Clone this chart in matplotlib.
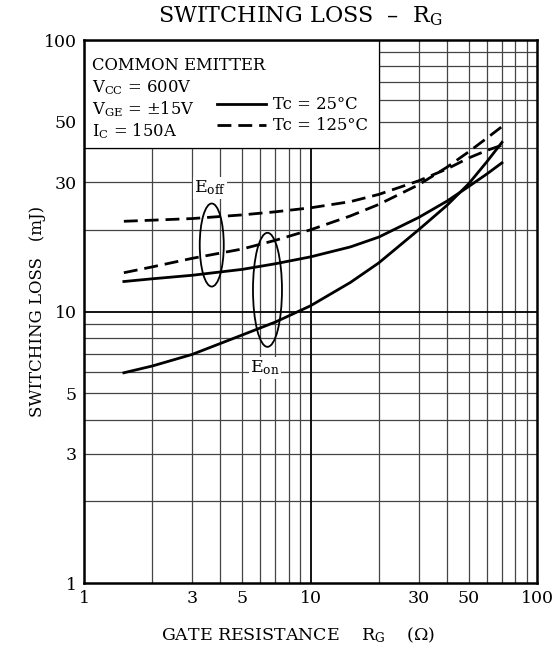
import matplotlib
matplotlib.use("Agg")
import matplotlib.pyplot as plt
from matplotlib.patches import Ellipse, Rectangle

plt.rcParams['font.family'] = ['DejaVu Serif']
plt.rcParams['mathtext.fontset'] = 'dejavuserif'

# gate resistance (ohm)
rg = [1.5, 2, 3, 5, 7, 10, 15, 20, 30, 40, 50, 60, 70]

# switching loss (mJ)
eon_25 = [5.95, 6.3, 6.95, 8.2, 9.15, 10.5, 12.8, 15.1, 20.0, 24.6, 29.6, 35.6, 42.0]
eoff_25 = [12.9, 13.2, 13.6, 14.3, 15.0, 15.9, 17.3, 18.8, 22.2, 25.5, 28.9, 32.1, 35.3]
eon_125 = [13.9, 14.6, 15.7, 17.0, 18.3, 20.0, 22.5, 24.8, 29.3, 34.0, 38.8, 43.5, 48.0]
eoff_125 = [21.5, 21.7, 22.0, 22.7, 23.3, 24.1, 25.4, 27.0, 30.3, 33.5, 36.8, 39.2, 41.0]

tick_vals = [1, 3, 5, 10, 30, 50, 100]
tick_labels = ["1", "3", "5", "10", "30", "50", "100"]
minor_vals = [2, 3, 4, 5, 6, 7, 8, 9, 20, 30, 40, 50, 60, 70, 80, 90]

fig = plt.figure(figsize=(5.54, 6.5), dpi=100)
ax = fig.add_axes([0.1516, 0.103, 0.8178, 0.8354])
ax.set_xscale('log')
ax.set_yscale('log')
ax.set_xlim(1, 100)
ax.set_ylim(1, 100)

# grid
for v in minor_vals:
    ax.axvline(v, color='#444444', lw=0.9, zorder=1)
    ax.axhline(v, color='#444444', lw=0.9, zorder=1)
ax.axvline(10, color='black', lw=1.3, zorder=1)
ax.axhline(10, color='black', lw=1.3, zorder=1)

# white box for conditions
ax.add_patch(Rectangle((1, 40), 19, 60, facecolor='white', edgecolor='black',
                       lw=0.9, zorder=2))

dash = (0, (5, 2.5))
ax.plot(rg, eon_25, color='black', lw=2, zorder=4)
ax.plot(rg, eoff_25, color='black', lw=2, zorder=4)
ax.plot(rg, eon_125, color='black', lw=2, ls=dash, zorder=4)
ax.plot(rg, eoff_125, color='black', lw=2, ls=dash, zorder=4)

# ellipses grouping curves
ax.add_patch(Ellipse((0.282, 0.6225), 0.053, 0.153, transform=ax.transAxes,
                     fill=False, edgecolor='black', lw=1.3, zorder=5))
ax.add_patch(Ellipse((0.405, 0.540), 0.064, 0.210, transform=ax.transAxes,
                     fill=False, edgecolor='black', lw=1.3, zorder=5))
ax.text(3.6, 28.5, r'$\mathrm{E_{off}}$', fontsize=12.5, ha='center', va='center',
        zorder=6, bbox=dict(facecolor='white', edgecolor='none', pad=1))
ax.text(6.3, 6.2, r'$\mathrm{E_{on}}$', fontsize=12.5, ha='center', va='center',
        zorder=6, bbox=dict(facecolor='white', edgecolor='none', pad=1))

# conditions text
cond_kw = dict(transform=ax.transAxes, fontsize=11.8, ha='left', va='center', zorder=6)
ax.text(0.0177, 0.954, "COMMON EMITTER", **cond_kw)
ax.text(0.0177, 0.913, r"$\mathrm{V_{CC}}$ = 600V", **cond_kw)
ax.text(0.0177, 0.873, r"$\mathrm{V_{GE}}$ = $\pm$15V", **cond_kw)
ax.text(0.0177, 0.833, r"$\mathrm{I_{C}}$ = 150A", **cond_kw)
ax.plot([0.2936, 0.402], [0.882, 0.882], transform=ax.transAxes, color='black',
        lw=2, zorder=6)
ax.plot([0.2936, 0.402], [0.843, 0.843], transform=ax.transAxes, color='black',
        lw=2, ls=dash, zorder=6)
ax.text(0.417, 0.882, "Tc = 25°C", **cond_kw)
ax.text(0.417, 0.843, "Tc = 125°C", **cond_kw)

ax.set_xticks(tick_vals)
ax.set_xticklabels(tick_labels)
ax.set_yticks(tick_vals)
ax.set_yticklabels(tick_labels)
ax.minorticks_off()
ax.tick_params(length=0, labelsize=12.5, pad=5)
for s in ax.spines.values():
    s.set_linewidth(1.8)
    s.set_zorder(7)

ax.set_xlabel(r"GATE RESISTANCE    $\mathrm{R_G}$    $(\Omega)$", fontsize=12.5)
ax.xaxis.set_label_coords(0.472, -0.079)
ax.set_ylabel("SWITCHING LOSS   (mJ)", fontsize=12)
ax.yaxis.set_label_coords(-0.084, 0.5)
fig.text(0.541, 0.975, r"SWITCHING LOSS  –  $\mathrm{R_G}$", fontsize=16,
         ha='center', va='center')

plt.savefig("out.png", dpi=100)
